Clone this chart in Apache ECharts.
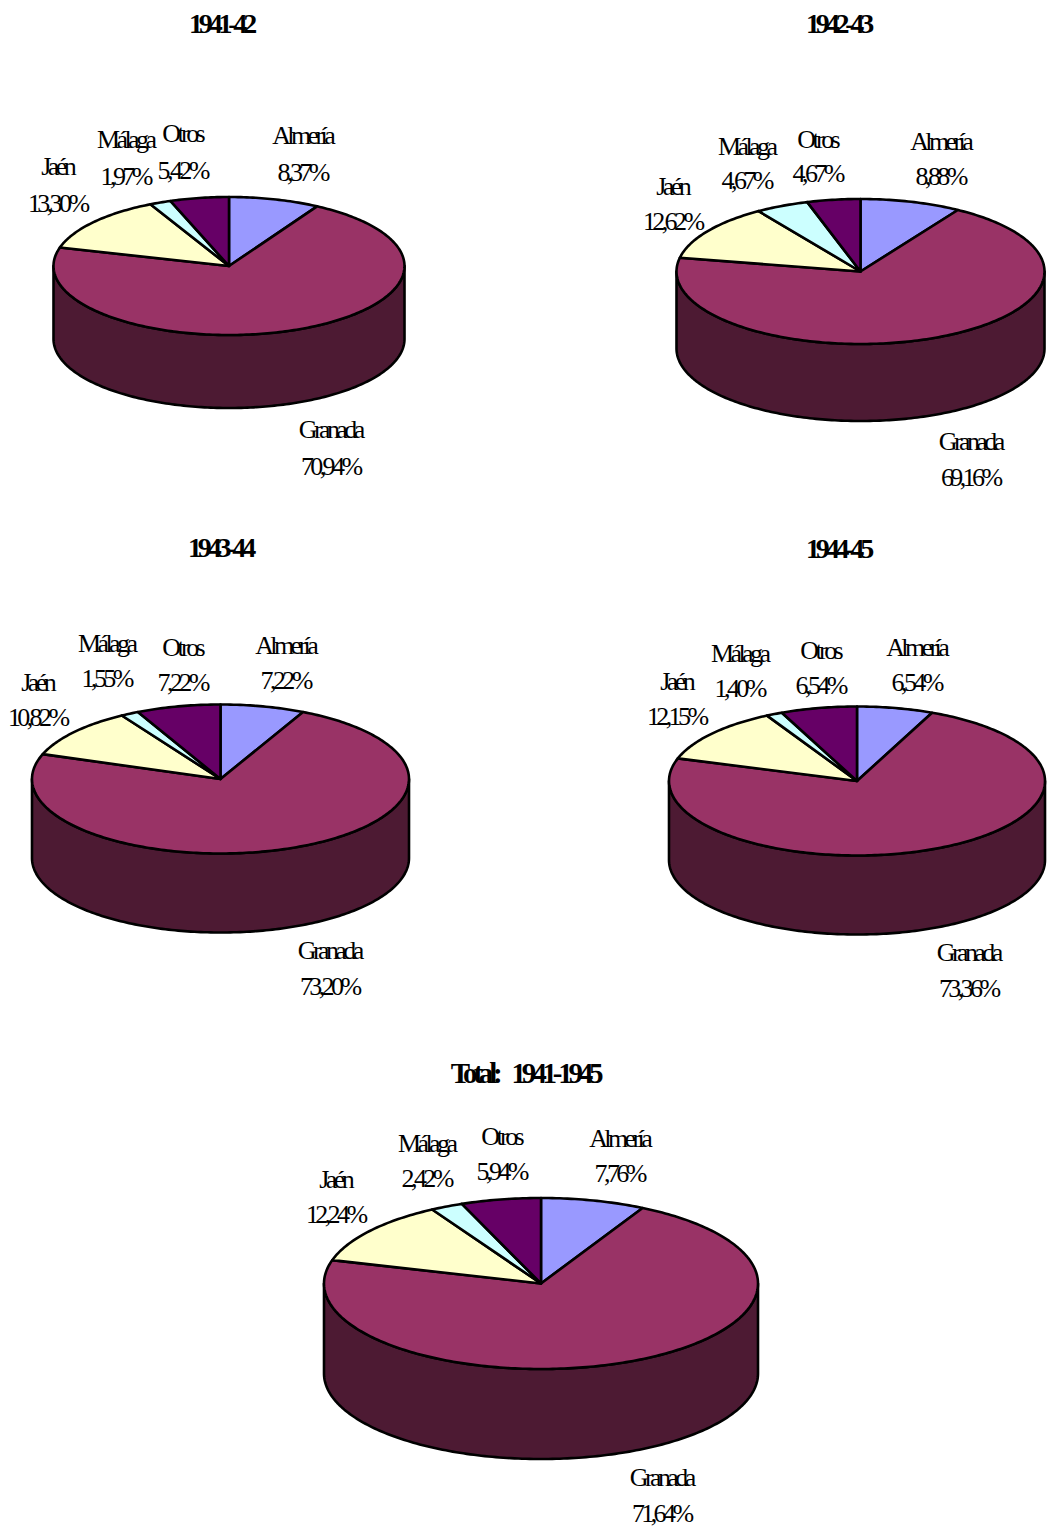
<!DOCTYPE html>
<html>
<head>
<meta charset="utf-8">
<script src="https://cdn.jsdelivr.net/npm/echarts@6/dist/echarts.min.js"></script>
<style>
html,body{margin:0;padding:0;background:#fff}
#c{width:1049px;height:1527px}
svg text{letter-spacing:-3.6px}
svg text[style*="bold"]{letter-spacing:-4.2px;word-spacing:10px}
</style>
</head>
<body>
<div id="c"></div>
<script>
// ---- data ----
var categories = ['Almería', 'Granada', 'Jaén', 'Málaga', 'Otros'];
var titles = ['1941-42', '1942-43', '1943-44', '1944-45', 'Total: 1941-1945'];
var values1941 = [8.37, 70.94, 13.30, 1.97, 5.42];
var values1942 = [8.88, 69.16, 12.62, 4.67, 4.67];
var values1943 = [7.22, 73.20, 10.82, 1.55, 7.22];
var values1944 = [6.54, 73.36, 12.15, 1.40, 6.54];
var valuesTotal = [7.76, 71.64, 12.24, 2.42, 5.94];
var allValues = [values1941, values1942, values1943, values1944, valuesTotal];

// ---- style and layout (no data) ----
var topColors = ['#9999FF', '#993366', '#FFFFCC', '#CCFFFF', '#660066'];
var wallColors = ['#4D4D80', '#4D1A33', '#808066', '#668080', '#330033'];
var FONT = '"Liberation Serif","Times New Roman",serif';
var pies = [
  {cx: 229, cy: 266, rx: 175.5, ry: 69, depth: 73},
  {cx: 860.5, cy: 271.5, rx: 184, ry: 72.5, depth: 77},
  {cx: 220.5, cy: 779, rx: 188.5, ry: 74.5, depth: 79},
  {cx: 857, cy: 781, rx: 188, ry: 74.5, depth: 79},
  {cx: 541, cy: 1283.5, rx: 217, ry: 85.5, depth: 90}
];
var titleAnchors = [[221, 23], [838, 23], [220, 547], [838, 548], [525, 1072]];
var titleSizes = [28, 28, 28, 28, 29];
var LABEL_DX = -1.8; // negative letter-spacing shifts centred text to the right
// label anchors per pie, category order: [centre x, name y, value y]
var labelAnchors = [
  [[304, 135, 172], [332, 429, 466], [59, 166, 203], [127, 139, 176], [184, 133, 170]],
  [[942, 141, 176], [972, 441, 477], [674, 186, 221], [748, 146, 180], [819, 139, 173]],
  [[287, 645, 680], [331, 950, 986], [39, 682, 717], [108, 643, 678], [184, 647, 682]],
  [[918, 647, 682], [970, 952, 988], [678, 681, 716], [741, 653, 688], [822, 650, 685]],
  [[621, 1138, 1173], [663, 1477, 1513], [337, 1179, 1214], [428, 1143, 1178], [503, 1136, 1171]]
];

function pct(v) { return v.toFixed(2).replace('.', ',') + '%'; }

function arcPoints(p, a0, a1, dy) {
  var pts = [], n = Math.max(2, Math.ceil(Math.abs(a1 - a0) / 0.0175));
  for (var i = 0; i <= n; i++) {
    var a = a0 + (a1 - a0) * i / n;
    pts.push([p.cx + p.rx * Math.sin(a), p.cy - p.ry * Math.cos(a) + dy]);
  }
  return pts;
}

function makeRender(pieIndex) {
  var p = pies[pieIndex], vals = allValues[pieIndex];
  var total = vals.reduce(function (s, v) { return s + v; }, 0);
  return function (params, api) {
    var idx = params.dataIndex, before = 0;
    for (var i = 0; i < idx; i++) before += vals[i];
    var a0 = before / total * 2 * Math.PI;
    var a1 = (before + api.value(0)) / total * 2 * Math.PI;
    var children = [];
    var lineStyle = {stroke: '#000', lineWidth: 2.6, lineJoin: 'round'};
    // side wall: only the front half of the rim is visible
    var w0 = Math.max(a0, Math.PI / 2), w1 = Math.min(a1, Math.PI * 1.5);
    if (w1 > w0) {
      var wall = arcPoints(p, w0, w1, 0).concat(arcPoints(p, w1, w0, p.depth));
      children.push({type: 'polygon', shape: {points: wall},
        style: Object.assign({fill: wallColors[idx]}, lineStyle)});
    }
    var topFace = [[p.cx, p.cy]].concat(arcPoints(p, a0, a1, 0));
    children.push({type: 'polygon', shape: {points: topFace},
      style: Object.assign({fill: topColors[idx]}, lineStyle)});
    var la = labelAnchors[pieIndex][idx];
    [[categories[idx], la[1]], [pct(api.value(0)), la[2]]].forEach(function (t) {
      children.push({type: 'text', z2: 10, style: {
        text: t[0], x: la[0] + LABEL_DX, y: t[1], textAlign: 'center', textVerticalAlign: 'middle',
        fill: '#000', fontFamily: FONT, fontSize: 26
      }});
    });
    return {type: 'group', children: children};
  };
}

var chart = echarts.init(document.getElementById('c'), null, {renderer: 'svg', width: 1049, height: 1527});
chart.setOption({
  animation: false,
  backgroundColor: '#fff',
  title: titles.map(function (t, i) {
    return {text: t, left: titleAnchors[i][0], top: titleAnchors[i][1] - 14, textAlign: 'center', padding: 0,
      textStyle: {fontFamily: FONT, fontWeight: 'bold', fontSize: titleSizes[i], color: '#000'}};
  }),
  series: allValues.map(function (vals, i) {
    return {
      type: 'custom', coordinateSystem: 'none', name: titles[i], silent: true,
      renderItem: makeRender(i),
      data: vals.map(function (v, k) { return {name: categories[k], value: v}; })
    };
  })
});
</script>
</body>
</html>
